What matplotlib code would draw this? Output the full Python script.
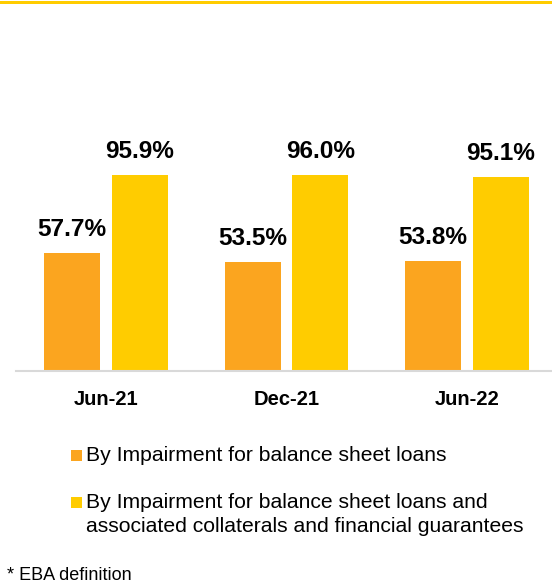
import matplotlib
matplotlib.use("Agg")
import matplotlib.pyplot as plt
from matplotlib.patches import Rectangle
import numpy as np

plt.rcParams['font.family'] = ['Liberation Sans', 'DejaVu Sans']

# --- data ---
periods = ['Jun-21', 'Dec-21', 'Jun-22']
impairment_loans = [57.7, 53.5, 53.8]
impairment_loans_collateral = [95.9, 96.0, 95.1]
series_labels = ['By Impairment for balance sheet loans',
                 'By Impairment for balance sheet loans and\nassociated collaterals and financial guarantees']
footnote = '* EBA definition'

c_orange = '#FBA51F'
c_yellow = '#FFCC00'

W, H = 552, 583
fig = plt.figure(figsize=(W / 100, H / 100), dpi=100)

# axes: baseline at 371 px from top, left edge at 16 px
base_px = H - 371
ax_h_px = H - 20 - base_px
ax = fig.add_axes([16 / W, base_px / H, (W - 16) / W, ax_h_px / H])
px_per_pct = 2.04
ax.set_ylim(0, ax_h_px / px_per_pct)
step = 180.5
ax.set_xlim((16 - 106) / step, (W - 106) / step)

x = np.arange(len(periods))
bw = 56 / step
off = 34 / step
b1 = ax.bar(x - off, impairment_loans, bw, color=c_orange)
b2 = ax.bar(x + off, impairment_loans_collateral, bw, color=c_yellow)

for bars, vals in [(b1, impairment_loans), (b2, impairment_loans_collateral)]:
    for rect, v in zip(bars, vals):
        ax.annotate(f'{v:.1f}%', (rect.get_x() + rect.get_width() / 2, v),
                    xytext=(0, 12.2), textcoords='offset points',
                    ha='center', va='baseline', fontsize=17.6, fontweight='bold')

ax.set_xticks(x)
ax.set_xticklabels(periods, fontsize=14.5, fontweight='bold')
ax.tick_params(axis='x', length=0, pad=14)
ax.set_yticks([])
for s in ['top', 'left', 'right']:
    ax.spines[s].set_visible(False)
ax.spines['bottom'].set_color('#D9D9D9')
ax.spines['bottom'].set_linewidth(1.5)

# top yellow rule
fig.add_artist(Rectangle((0, 1 - 4 / H), 1, 3 / H, transform=fig.transFigure,
                         color=c_yellow, lw=0))

# legend, drawn by hand
def fy(px):
    return 1 - px / H

leg_colors = [c_orange, c_yellow]
leg_base = [461, 508]
for col, lab, yb in zip(leg_colors, series_labels, leg_base):
    fig.add_artist(Rectangle((71 / W, fy(yb - 0.5)), 11 / W, 11 / H,
                             transform=fig.transFigure, color=col, lw=0))
    for k, line in enumerate(lab.split('\n')):
        fig.text(86 / W, fy(yb + 24 * k), line, fontsize=15.2,
                 va='baseline', ha='left')

fig.text(7 / W, fy(580), footnote, fontsize=13, va='baseline', ha='left')

fig.savefig('out.png', dpi=100)
